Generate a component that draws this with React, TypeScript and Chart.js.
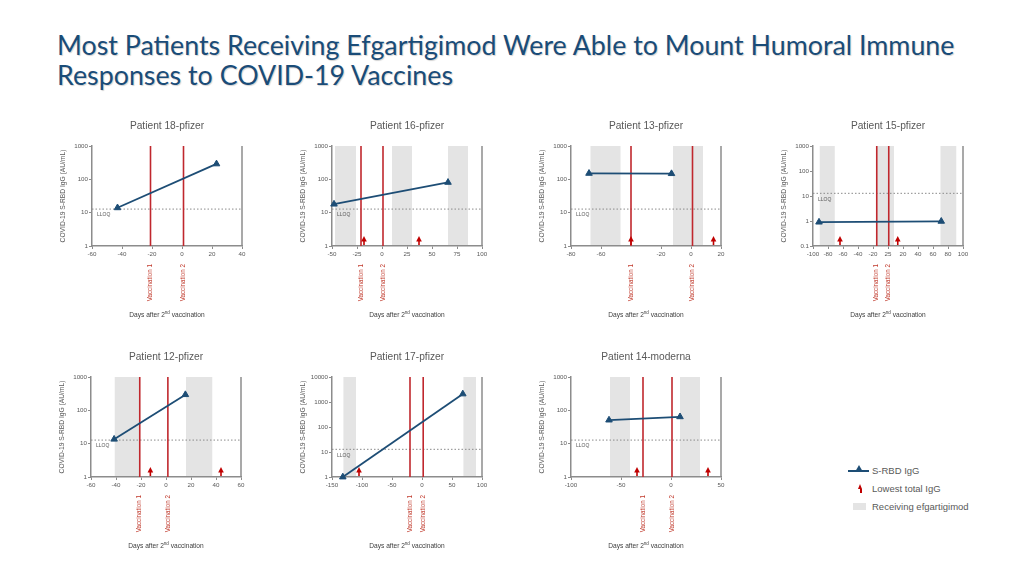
import React, { useEffect, useRef } from 'react';
import { Chart, registerables } from 'chart.js';
Chart.register(...registerables);

// ---------- data ----------
const lloqValue = 12.8;

const yTicks1k = [1, 10, 100, 1000];
const yTicks15 = [0.1, 1, 10, 100, 1000];
const yTicks10k = [1, 10, 100, 1000, 10000];

// Patient 18-pfizer
const p18Days = [-43, 23];
const p18Igg = [14, 290];
const p18Vacc = [-21, 1];
const p18Shade: number[][] = [];
const p18Arrows: number[] = [];
const p18XTicks = [-60, -40, -20, 0, 20, 40];
const p18XLabels = ['-60', '-40', '-20', '0', '20', '40'];

// Patient 16-pfizer
const p16Days = [-48, 66];
const p16Igg = [18, 81];
const p16Vacc = [-21, 1];
const p16Shade = [[-47, -26], [10, 30], [66, 86]];
const p16Arrows = [-18, 37];
const p16XTicks = [-50, -25, 0, 25, 50, 75, 100];
const p16XLabels = ['-50', '-25', '0', '25', '50', '75', '100'];

// Patient 13-pfizer
const p13Days = [-68, -13];
const p13Igg = [151, 148];
const p13Vacc = [-40, 1];
const p13Shade = [[-67, -47], [-12, 8]];
const p13Arrows = [-40, 15];
const p13XTicks = [-80, -60, -20, 0, 20];
const p13XLabels = ['-80', '-60', '-20', '0', '20'];

// Patient 15-pfizer
const p15Days = [-92, 71];
const p15Igg = [0.9, 0.97];
const p15Vacc = [-15, 1];
const p15Shade = [[-91, -71], [-15, 8], [70, 91]];
const p15Arrows = [-64, 13];
const p15XTicks = [-100, -80, -60, -40, -20, 0, 20, 40, 60, 80, 100];
const p15XLabels = ['-100', '-80', '-60', '-40', '-20', '25', '20', '40', '60', '80', '100'];

// Patient 12-pfizer
const p12Days = [-41.5, 15.5];
const p12Igg = [13.6, 295];
const p12Vacc = [-21, 1.5];
const p12Shade = [[-41, -21], [16, 37]];
const p12Arrows = [-12.5, 44];
const p12XTicks = [-60, -40, -20, 0, 20, 40, 60];
const p12XLabels = ['-60', '-40', '-20', '0', '20', '40', '60'];

// Patient 17-pfizer
const p17Days = [-132, 68];
const p17Igg = [1.0, 2100];
const p17Vacc = [-20, 2];
const p17Shade = [[-131, -110], [69, 90]];
const p17Arrows = [-105];
const p17XTicks = [-150, -100, -50, 0, 50, 100];
const p17XLabels = ['-150', '-100', '-50', '0', '50', '100'];

// Patient 14-moderna
const p14Days = [-62, 9];
const p14Igg = [51, 64];
const p14Vacc = [-28, 1];
const p14Shade = [[-61, -41], [9, 29]];
const p14Arrows = [-34, 37];
const p14XTicks = [-100, -50, 0, 50];
const p14XLabels = ['-100', '-50', '0', '50'];

// ---------- styling ----------
const BLUE = '#1d4d75';
const RED_LINE = '#c0272d';
const RED_TEXT = '#c0392b';
const ARROW_RED = '#c00000';
const SHADE = '#e4e4e4';
const AXIS = '#8c8c8c';
const TEXT = '#595959';
const FONT = '"Liberation Sans", Arial, sans-serif';

const PADL = 50;
const PADT = 36;
const PLOT_W = 150;
const PLOT_H = 100;
const PADR = 22;
const PADB = 80;

type Panel = {
  title: string;
  left: number;
  top: number;
  days: number[];
  igg: number[];
  vacc: number[];
  shade: number[][];
  arrows: number[];
  xMin: number;
  xMax: number;
  xTicks: number[];
  xLabels: string[];
  yMin: number;
  yMax: number;
  yTicks: number[];
};

const panels: Panel[] = [
  { title: 'Patient 18-pfizer', left: 92, top: 146, days: p18Days, igg: p18Igg, vacc: p18Vacc, shade: p18Shade, arrows: p18Arrows, xMin: -60, xMax: 40, xTicks: p18XTicks, xLabels: p18XLabels, yMin: 1, yMax: 1000, yTicks: yTicks1k },
  { title: 'Patient 16-pfizer', left: 332, top: 146, days: p16Days, igg: p16Igg, vacc: p16Vacc, shade: p16Shade, arrows: p16Arrows, xMin: -50, xMax: 100, xTicks: p16XTicks, xLabels: p16XLabels, yMin: 1, yMax: 1000, yTicks: yTicks1k },
  { title: 'Patient 13-pfizer', left: 571, top: 146, days: p13Days, igg: p13Igg, vacc: p13Vacc, shade: p13Shade, arrows: p13Arrows, xMin: -80, xMax: 20, xTicks: p13XTicks, xLabels: p13XLabels, yMin: 1, yMax: 1000, yTicks: yTicks1k },
  { title: 'Patient 15-pfizer', left: 813, top: 146, days: p15Days, igg: p15Igg, vacc: p15Vacc, shade: p15Shade, arrows: p15Arrows, xMin: -100, xMax: 100, xTicks: p15XTicks, xLabels: p15XLabels, yMin: 0.1, yMax: 1000, yTicks: yTicks15 },
  { title: 'Patient 12-pfizer', left: 91, top: 377, days: p12Days, igg: p12Igg, vacc: p12Vacc, shade: p12Shade, arrows: p12Arrows, xMin: -60, xMax: 60, xTicks: p12XTicks, xLabels: p12XLabels, yMin: 1, yMax: 1000, yTicks: yTicks1k },
  { title: 'Patient 17-pfizer', left: 332, top: 377, days: p17Days, igg: p17Igg, vacc: p17Vacc, shade: p17Shade, arrows: p17Arrows, xMin: -150, xMax: 100, xTicks: p17XTicks, xLabels: p17XLabels, yMin: 1, yMax: 10000, yTicks: yTicks10k },
  { title: 'Patient 14-moderna', left: 571, top: 377, days: p14Days, igg: p14Igg, vacc: p14Vacc, shade: p14Shade, arrows: p14Arrows, xMin: -100, xMax: 50, xTicks: p14XTicks, xLabels: p14XLabels, yMin: 1, yMax: 1000, yTicks: yTicks1k },
];

function PanelChart({ p }: { p: Panel }) {
  const ref = useRef<HTMLCanvasElement | null>(null);
  useEffect(() => {
    if (!ref.current) return;
    const decor = {
      id: 'decor',
      beforeDatasetsDraw(chart: any) {
        const { ctx, chartArea: a } = chart;
        const x = chart.scales.x;
        const y = chart.scales.y;
        ctx.save();
        ctx.fillStyle = SHADE;
        for (const [s, e] of p.shade) {
          const x0 = x.getPixelForValue(s);
          const x1 = x.getPixelForValue(e);
          ctx.fillRect(x0, a.top, x1 - x0, a.bottom - a.top - 1);
        }
        // LLOQ dashed line
        const ly = y.getPixelForValue(lloqValue);
        ctx.strokeStyle = '#8a8a8a';
        ctx.lineWidth = 1;
        ctx.setLineDash([1.5, 2]);
        ctx.beginPath();
        ctx.moveTo(a.left, ly);
        ctx.lineTo(a.right, ly);
        ctx.stroke();
        ctx.setLineDash([]);
        // vaccination lines
        ctx.strokeStyle = RED_LINE;
        ctx.lineWidth = 1.6;
        for (const d of p.vacc) {
          const vx = x.getPixelForValue(d);
          ctx.beginPath();
          ctx.moveTo(vx, a.top);
          ctx.lineTo(vx, a.bottom);
          ctx.stroke();
        }
        // right border
        ctx.strokeStyle = AXIS;
        ctx.lineWidth = 1.5;
        ctx.beginPath();
        ctx.moveTo(a.right, a.top);
        ctx.lineTo(a.right, a.bottom);
        ctx.stroke();
        // LLOQ label
        ctx.fillStyle = TEXT;
        ctx.font = `5px ${FONT}`;
        ctx.textAlign = 'left';
        ctx.textBaseline = 'middle';
        ctx.fillText('LLOQ', a.left + 5, ly + 6);
        ctx.restore();
      },
      afterDatasetsDraw(chart: any) {
        const { ctx, chartArea: a } = chart;
        const x = chart.scales.x;
        ctx.save();
        ctx.fillStyle = ARROW_RED;
        ctx.strokeStyle = ARROW_RED;
        ctx.lineWidth = 1.6;
        for (const d of p.arrows) {
          const ax = x.getPixelForValue(d);
          ctx.beginPath();
          ctx.moveTo(ax, a.bottom - 1);
          ctx.lineTo(ax, a.bottom - 5);
          ctx.stroke();
          ctx.beginPath();
          ctx.moveTo(ax, a.bottom - 10);
          ctx.lineTo(ax - 2.8, a.bottom - 4.5);
          ctx.lineTo(ax + 2.8, a.bottom - 4.5);
          ctx.closePath();
          ctx.fill();
        }
        ctx.restore();
      },
      afterDraw(chart: any) {
        const { ctx, chartArea: a } = chart;
        const x = chart.scales.x;
        const cx = (a.left + a.right) / 2;
        const cy = (a.top + a.bottom) / 2;
        ctx.save();
        // panel title
        ctx.fillStyle = TEXT;
        ctx.font = `10.2px ${FONT}`;
        ctx.textAlign = 'center';
        ctx.textBaseline = 'middle';
        ctx.fillText(p.title, cx, a.top - 20);
        // y title
        ctx.save();
        ctx.translate(a.left - 29, cy);
        ctx.rotate(-Math.PI / 2);
        ctx.font = `6.7px ${FONT}`;
        ctx.fillText('COVID-19 S-RBD IgG (AU/mL)', 0, 0);
        ctx.restore();
        // vaccination labels
        ctx.fillStyle = RED_TEXT;
        ctx.font = `6.3px ${FONT}`;
        p.vacc.forEach((d, i) => {
          const vx = x.getPixelForValue(d);
          ctx.save();
          ctx.translate(vx, a.bottom + 18);
          ctx.rotate(-Math.PI / 2);
          ctx.textAlign = 'right';
          ctx.textBaseline = 'middle';
          ctx.fillText(`Vaccination ${i + 1}`, 0, 0);
          ctx.restore();
        });
        // x title with superscript
        ctx.fillStyle = '#404040';
        const main = `6.6px ${FONT}`;
        const sup = `4.5px ${FONT}`;
        const t1 = 'Days after 2';
        const t2 = 'nd';
        const t3 = ' vaccination';
        ctx.font = main;
        const w1 = ctx.measureText(t1).width;
        const w3 = ctx.measureText(t3).width;
        ctx.font = sup;
        const w2 = ctx.measureText(t2).width;
        const total = w1 + w2 + w3;
        let sx = cx - total / 2;
        const ty = a.bottom + 69;
        ctx.textAlign = 'left';
        ctx.textBaseline = 'middle';
        ctx.font = main;
        ctx.fillText(t1, sx, ty);
        sx += w1;
        ctx.font = sup;
        ctx.fillText(t2, sx, ty - 2);
        sx += w2;
        ctx.font = main;
        ctx.fillText(t3, sx, ty);
        ctx.restore();
      },
    };

    const chart = new Chart(ref.current, {
      type: 'line',
      data: {
        datasets: [
          {
            label: 'S-RBD IgG',
            data: p.days.map((d, i) => ({ x: d, y: p.igg[i] })),
            borderColor: BLUE,
            backgroundColor: BLUE,
            borderWidth: 1.8,
            pointStyle: 'triangle',
            pointRadius: 3.8,
            pointHoverRadius: 3.8,
            pointBorderWidth: 1,
            tension: 0,
            clip: false as any,
          },
        ],
      },
      options: {
        responsive: false,
        animation: false,
        events: [],
        layout: { padding: { top: PADT, right: PADR, left: 0, bottom: 0 } },
        plugins: {
          legend: { display: false },
          title: { display: false },
          tooltip: { enabled: false },
        },
        scales: {
          x: {
            type: 'linear',
            min: p.xMin,
            max: p.xMax,
            afterBuildTicks: (s: any) => {
              s.ticks = p.xTicks.map((v) => ({ value: v }));
            },
            afterFit: (s: any) => {
              s.height = PADB;
            },
            ticks: {
              autoSkip: false,
              maxRotation: 0,
              padding: 2,
              color: TEXT,
              font: { family: FONT, size: 6.2 },
              callback: (_v: any, i: number) => p.xLabels[i],
            },
            grid: { display: true, drawOnChartArea: false, drawTicks: true, tickLength: 3, color: AXIS, lineWidth: 1 },
            border: { display: true, color: AXIS, width: 1.5 },
          },
          y: {
            type: 'logarithmic',
            min: p.yMin,
            max: p.yMax,
            afterBuildTicks: (s: any) => {
              s.ticks = p.yTicks.map((v) => ({ value: v }));
            },
            afterFit: (s: any) => {
              s.width = PADL;
            },
            ticks: {
              autoSkip: false,
              padding: 1,
              color: TEXT,
              font: { family: FONT, size: 6.2 },
              callback: (v: any) => String(v),
            },
            grid: { display: true, drawOnChartArea: false, drawTicks: true, tickLength: 3, color: AXIS, lineWidth: 1 },
            border: { display: true, color: AXIS, width: 1.5 },
          },
        },
      },
      plugins: [decor],
    } as any);
    return () => chart.destroy();
  }, [p]);

  const W = PADL + PLOT_W + PADR;
  const H = PADT + PLOT_H + PADB;
  return (
    <canvas
      ref={ref}
      width={W}
      height={H}
      style={{ position: 'absolute', left: p.left - PADL, top: p.top - PADT, width: W, height: H }}
    />
  );
}

export default function App() {
  const legendText: React.CSSProperties = {
    position: 'absolute',
    left: 872,
    fontFamily: FONT,
    fontSize: 9.5,
    lineHeight: '12px',
    color: TEXT,
    whiteSpace: 'nowrap',
  };
  return (
    <div style={{ position: 'absolute', left: 0, top: 0, width: 1024, height: 576, background: '#ffffff', overflow: 'hidden' }}>
      <div
        style={{
          position: 'absolute',
          left: 57,
          top: 31,
          fontFamily: 'Lato, "Open Sans", sans-serif',
          fontSize: 26.8,
          lineHeight: '29.5px',
          color: '#1a4c78',
          textShadow: '1px 1px 1px rgba(0,0,0,0.18)',
          whiteSpace: 'nowrap',
        }}
      >
        <div>Most Patients Receiving Efgartigimod Were Able to Mount Humoral Immune</div>
        <div>Responses to COVID-19 Vaccines</div>
      </div>

      {panels.map((p) => (
        <PanelChart key={p.title} p={p} />
      ))}

      {/* legend */}
      <div style={{ position: 'absolute', left: 848, top: 470, width: 21, height: 2, background: BLUE }} />
      <div
        style={{
          position: 'absolute',
          left: 855,
          top: 465,
          width: 0,
          height: 0,
          borderLeft: '4.5px solid transparent',
          borderRight: '4.5px solid transparent',
          borderBottom: '7px solid ' + BLUE,
        }}
      />
      <div style={{ ...legendText, top: 465 }}>S-RBD IgG</div>
      <div style={{ position: 'absolute', left: 860, top: 489, width: 1.6, height: 4, background: ARROW_RED }} />
      <div
        style={{
          position: 'absolute',
          left: 858,
          top: 484,
          width: 0,
          height: 0,
          borderLeft: '2.8px solid transparent',
          borderRight: '2.8px solid transparent',
          borderBottom: '5.5px solid ' + ARROW_RED,
        }}
      />
      <div style={{ ...legendText, top: 483 }}>Lowest total IgG</div>
      <div style={{ position: 'absolute', left: 853, top: 503, width: 13, height: 7, background: SHADE }} />
      <div style={{ ...legendText, top: 501 }}>Receiving efgartigimod</div>
    </div>
  );
}
